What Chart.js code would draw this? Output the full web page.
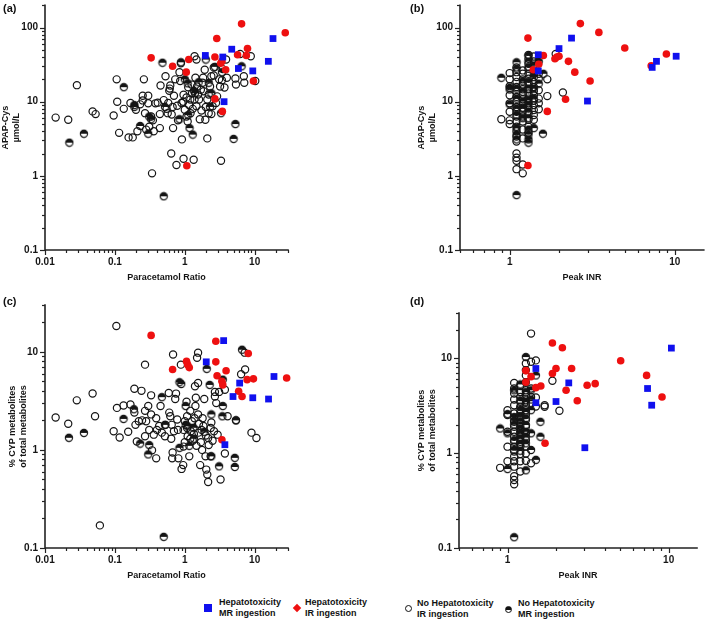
<!DOCTYPE html>
<html><head><meta charset="utf-8">
<script src="https://cdn.jsdelivr.net/npm/chart.js@4.4.1/dist/chart.umd.min.js"></script>
<style>
body{margin:0;background:#fff;width:709px;height:620px;position:relative;overflow:hidden;font-family:"Liberation Sans",Arial,sans-serif;}
canvas{position:absolute;}
.plab{position:absolute;font-weight:bold;font-size:11px;color:#111;line-height:12px;}
.leg{position:absolute;font-weight:bold;font-size:9px;line-height:10.5px;color:#111;white-space:nowrap;}
.mk{position:absolute;box-sizing:border-box;}
</style></head><body>
<canvas id="ca" width="300" height="290" style="left:0;top:0"></canvas>
<canvas id="cb" width="349" height="290" style="left:360px;top:0"></canvas>
<canvas id="cc" width="300" height="293" style="left:0;top:295px"></canvas>
<canvas id="cd" width="349" height="293" style="left:360px;top:295px"></canvas>
<div class="plab" style="left:3px;top:2px">(a)</div>
<div class="plab" style="left:410px;top:2px">(b)</div>
<div class="plab" style="left:3px;top:295px">(c)</div>
<div class="plab" style="left:410px;top:295px">(d)</div>

<div class="mk" style="left:204px;top:604px;width:8px;height:8px;background:#1010ee"></div>
<div class="leg" style="left:219px;top:597px">Hepatotoxicity<br>MR ingestion</div>
<div class="mk" style="left:294px;top:605px;width:6px;height:6px;background:#ee1010;transform:rotate(45deg)"></div>
<div class="leg" style="left:305px;top:597px">Hepatotoxicity<br>IR ingestion</div>
<div class="mk" style="left:404.5px;top:604.5px;width:7px;height:7px;border:1.2px solid #111;border-radius:50%"></div>
<div class="leg" style="left:417px;top:598px">No Hepatotoxicity<br>IR ingestion</div>
<div class="mk" style="left:504.5px;top:605.5px;width:7px;height:7px;border:1.2px solid #111;border-radius:50%;background:linear-gradient(#111 50%,#fff 50%)"></div>
<div class="leg" style="left:518px;top:598px">No Hepatotoxicity<br>MR ingestion</div>

<script>
// ---------- tick values / labels ----------
const ratioTicks = [0.01, 0.1, 1, 10];
const ratioTickLabels = ['0.01', '0.1', '1', '10'];
const inrTicks = [1, 10];
const inrTickLabels = ['1', '10'];
const cysTicks = [0.1, 1, 10, 100];
const cysTickLabels = ['0.1', '1', '10', '100'];
const cypTicks = [0.1, 1, 10];
const cypTickLabels = ['0.1', '1', '10'];

// ---------- Panel (a): Paracetamol Ratio vs APAP-Cys ----------
const a_hepMR = [[1.97,42],[3.5,40],[4.7,51],[5.85,28],[9.4,26],[15.7,35],[18.3,71],[3.65,10]];
const a_hepIR = [[0.33,39],[0.67,30],[1.14,37],[1.05,25],[2.87,71],[2.7,40],[3.27,33],[3.4,35],[3.85,27],[2.7,10.9],[3.45,7.4],[6.5,112],[5.7,43],[7.9,52],[7.6,42],[9.6,19],[27.4,85],[1.07,1.37]];
const a_noIR = [[0.0142,6.1],[0.0215,5.7],[0.0286,16.7],[0.048,7.4],[0.053,6.8],[0.096,6.5],[0.106,20],[0.108,10],[0.115,3.8],[0.134,8],[0.157,3.3],[0.167,9.6],[0.18,3.3],[0.2,7.8],[0.21,4],[0.23,9.2],[0.25,10.4],[0.25,12],[0.26,20],[0.27,7],[0.28,4.2],[0.3,12],[0.3,9.5],[0.31,4.6],[0.33,6.3],[0.35,5.6],[0.36,4],[0.34,1.08],[0.38,9.5],[0.41,9.7],[0.44,6.8],[0.44,4.4],[0.45,16.5],[0.5,10.5],[0.53,22],[0.57,7],[0.58,9.6],[0.61,15],[0.64,2],[0.62,16.5],[0.65,6.7],[0.68,4.4],[0.67,8.5],[0.7,12],[0.73,20],[0.76,1.4],[0.8,5.6],[0.84,25],[0.86,19],[0.9,9.6],[0.88,33],[0.91,3.1],[0.96,1.7],[0.96,12.4],[1.0,7.8],[1.06,11.4],[1.06,6.3],[1.12,15.6],[1.2,10.7],[1.21,7],[1.27,13],[1.34,1.65],[1.38,41],[1.47,37],[1.38,10.7],[1.42,21],[1.47,8.7],[1.5,16],[1.6,10.7],[1.64,5.8],[1.73,7.6],[1.83,21],[1.86,13.8],[1.93,27],[1.97,5.7],[2.1,10.7],[2.1,3.2],[2.2,7],[2.3,16],[2.4,22],[2.5,8.7],[2.6,29],[2.8,9.6],[2.9,11.8],[3.1,20],[3.2,16],[3.3,1.6],[3.4,19.5],[3.7,15.5],[3.9,37],[4.0,21],[5.3,20.5],[5.4,17],[6.2,44],[7.0,22],[7.1,18],[8.8,41],[10.2,19],[3.5,27.5],[1.15,9.0],[1.3,8.0],[1.55,12.5],[1.7,14.5],[2.0,8.5],[2.2,12.5],[2.4,6.8],[0.78,8.8],[0.95,10],[1.25,17],[1.8,18],[0.55,8],[2.6,22.5],[1.1,5.4],[0.6,14]];
const a_noMR = [[0.0223,2.8],[0.036,3.7],[0.134,15.7],[0.19,9],[0.19,8.5],[0.23,4.7],[0.3,3.7],[0.31,6.3],[0.33,5.8],[0.48,33.5],[0.52,8.5],[0.5,0.53],[0.84,5.8],[0.88,34],[1.0,20],[1.1,17.7],[1.12,6.6],[1.17,4.4],[1.3,3.6],[1.35,14],[1.58,18.3],[2.0,37],[2.2,18],[2.4,13],[2.7,29.5],[3.3,7],[3.4,25],[5.3,5],[5.0,3.15],[6.5,30],[1.4,13],[2.3,8.5]];

// ---------- Panel (b): Peak INR vs APAP-Cys ----------
const b_hepMR = [[1.49,43],[1.99,52],[2.37,72],[1.49,26],[2.96,10.2],[7.3,29],[7.75,35],[10.2,41]];
const b_hepIR = [[1.29,72],[1.6,42],[1.5,32],[1.39,27],[1.88,38],[1.99,41],[1.93,40],[2.68,113],[3.47,86],[2.27,35],[2.48,25],[3.07,19],[2.18,10.8],[1.69,7.4],[4.98,53],[7.2,30.5],[8.9,44],[1.29,1.38]];
const b_noIR = [[0.89,5.8],
 [1.0,24.3],[1.0,20],[1.0,16.2],[1.0,12.2],[1.0,9.5],[1.0,7.3],[1.0,5.6],[1.0,5.0],
 [1.1,29],[1.1,25],[1.1,21.5],[1.1,18.5],[1.1,15.8],[1.1,13.6],[1.1,11.6],[1.1,10],[1.1,8.5],[1.1,7.3],[1.1,6.3],[1.1,5.4],[1.1,4.6],[1.1,4],[1.1,3.4],[1.1,2.9],[1.1,2.0],[1.1,1.75],[1.1,1.6],[1.1,1.23],
 [1.2,26.4],[1.2,23.8],[1.2,20],[1.2,17],[1.2,14.7],[1.2,12.5],[1.2,10.8],[1.2,9.5],[1.2,8.3],[1.2,7.3],[1.2,6.3],[1.2,5.4],[1.2,4.2],[1.2,3.2],[1.2,1.42],[1.2,1.08],
 [1.3,42.7],[1.3,37.8],[1.3,32.4],[1.3,27.8],[1.3,23.8],[1.3,20.4],[1.3,17.5],[1.3,14.7],[1.3,12.9],[1.3,11],[1.3,9.5],[1.3,8.1],[1.3,6.8],[1.3,5.7],[1.3,4.6],[1.3,3.8],
 [1.4,40.6],[1.4,34.8],[1.4,26.4],[1.4,23.8],[1.4,18.4],[1.4,15.8],[1.4,13.8],[1.4,12.2],[1.4,10.3],[1.4,9],[1.4,7.7],[1.4,6.6],[1.4,5.7],
 [1.5,23.8],[1.5,20.4],[1.5,14.3],[1.5,11],[1.5,9.5],[1.5,7.9],
 [1.69,20],[1.69,11.9],[1.9,44],[2.1,13.3]];
const b_noMR = [[0.89,21],[1.0,15.4],[1.0,14.6],[1.0,9.2],
 [1.1,34],[1.1,27.8],[1.1,15],[1.1,11],[1.1,8.1],[1.1,6.6],[1.1,4.4],[1.1,3.6],[1.1,3.1],[1.1,0.55],
 [1.2,18.8],[1.2,13.6],[1.2,10],[1.2,8.1],[1.2,6],
 [1.3,41.8],[1.3,34.8],[1.3,29.2],[1.3,18.4],[1.3,15],[1.3,10.5],[1.3,9],[1.3,7.3],[1.3,6],[1.3,4.2],[1.3,3.6],[1.3,3.1],[1.3,2.8],
 [1.4,30.8],[1.4,21.5],[1.4,15],[1.4,11],[1.4,4.4],
 [1.5,34.8],[1.5,17.5],[1.6,23.8],[1.59,3.7]];

// ---------- Panel (c): Paracetamol Ratio vs % CYP metabolites ----------
const c_hepMR = [[2.03,7.9],[3.6,13],[3.75,1.13],[4.9,3.5],[6.1,4.8],[9.4,3.4],[15.8,3.3],[18.9,5.6]];
const c_hepIR = [[0.33,14.7],[0.67,6.6],[1.06,8.0],[1.1,7.4],[1.16,6.9],[2.78,12.8],[2.78,7.9],[2.9,5.7],[3.4,5.0],[3.5,4.6],[3.9,6.4],[3.4,1.27],[5.9,3.96],[6.6,3.5],[7.8,5.2],[8.1,9.6],[9.6,5.3],[28.7,5.4]];
const c_noIR = [[0.0142,2.14],[0.0215,1.85],[0.0285,3.2],[0.048,3.76],[0.052,2.2],[0.061,0.17],[0.096,1.55],[0.105,18.3],[0.107,2.68],[0.117,1.34],[0.133,2.84],[0.155,1.53],[0.167,2.9],[0.19,2.4],[0.19,4.2],[0.197,1.8],[0.206,1.22],[0.22,1.96],[0.24,4.0],[0.245,2.0],[0.27,7.4],[0.27,2.5],[0.28,1.96],[0.27,1.38],[0.3,2.8],[0.31,1.6],[0.33,3.6],[0.33,2.3],[0.34,0.99],[0.36,1.43],[0.39,0.82],[0.39,2.1],[0.4,1.6],[0.43,1.75],[0.45,2.8],[0.47,1.5],[0.52,1.38],[0.53,1.8],[0.59,3.8],[0.6,2.4],[0.62,2.2],[0.64,1.3],[0.65,1.8],[0.67,0.94],[0.66,0.82],[0.68,9.4],[0.73,3.3],[0.75,3.75],[0.78,2.04],[0.8,1.6],[0.81,0.82],[0.88,7.4],[0.9,0.64],[0.95,0.7],[0.96,1.08],[0.96,1.6],[1.0,1.96],[1.06,3.1],[1.08,2.2],[1.08,1.67],[1.1,1.38],[1.16,0.86],[1.2,2.5],[1.22,1.55],[1.26,1.96],[1.3,1.24],[1.38,2.1],[1.4,4.45],[1.42,2.8],[1.44,3.4],[1.47,1.1],[1.5,8.7],[1.55,9.8],[1.55,4.8],[1.55,2.3],[1.57,1.5],[1.6,1.85],[1.66,0.7],[1.74,1.6],[1.77,1.0],[1.85,1.75],[1.9,3.3],[1.98,0.86],[2.03,0.63],[2.1,0.56],[2.16,0.47],[2.16,1.32],[2.2,1.12],[2.35,1.67],[2.35,0.86],[2.5,1.24],[2.62,1.55],[2.7,3.5],[2.7,3.9],[2.82,3.0],[2.95,1.43],[3.1,3.9],[3.25,0.5],[3.75,4.1],[3.75,0.92],[4.1,2.2],[5.4,2.0],[6.4,5.9],[7.3,6.6],[7.2,9.8],[9.0,1.5],[10.6,1.32],[1.2,1.3],[1.35,1.45],[1.7,1.2],[2.0,1.4],[0.7,1.55],[1.8,2.1],[2.4,1.9],[1.0,1.2]];
const c_noMR = [[0.022,1.33],[0.036,1.49],[0.133,2.07],[0.187,2.6],[0.23,1.16],[0.31,1.12],[0.3,0.9],[0.47,3.45],[0.52,1.8],[0.5,0.13],[0.84,4.9],[0.89,4.7],[0.84,1.05],[1.03,2.8],[1.03,1.8],[1.1,1.74],[1.16,1.1],[1.33,1.68],[1.36,1.3],[1.9,1.53],[2.06,6.7],[2.27,4.6],[2.4,2.3],[2.4,0.86],[3.1,0.68],[3.5,2.8],[3.5,5.2],[3.45,2.2],[5.2,0.83],[5.4,2.0],[5.2,0.67],[6.6,10.5]];

// ---------- Panel (d): Peak INR vs % CYP metabolites ----------
const d_hepMR = [[1.5,7.8],[1.5,3.4],[2.0,3.5],[2.4,5.5],[3.02,1.14],[7.4,4.8],[7.85,3.2],[10.4,12.8]];
const d_hepIR = [[1.3,7.4],[1.3,5.6],[1.4,6.4],[1.5,4.9],[1.61,5.1],[1.9,14.5],[1.9,6.9],[2.0,7.8],[2.19,12.9],[2.31,4.6],[2.5,7.8],[2.71,3.56],[3.12,5.2],[3.5,5.4],[5.04,9.4],[7.3,6.6],[9.1,3.9],[1.71,1.27]];
const d_noIR = [[0.9,0.7],
 [1.0,2.84],[1.0,2.52],[1.0,1.68],[1.0,1.17],[1.0,0.82],
 [1.1,5.5],[1.1,4.8],[1.1,4.25],[1.1,3.68],[1.1,3.2],[1.1,2.62],[1.1,2.14],[1.1,1.9],[1.1,1.68],[1.1,1.49],[1.1,1.32],[1.1,1.17],[1.1,1.04],[1.1,0.92],[1.1,0.82],[1.1,0.72],[1.1,0.57],[1.1,0.52],[1.1,0.47],
 [1.2,5.1],[1.2,4.4],[1.2,3.9],[1.2,3.47],[1.2,3.08],[1.2,2.62],[1.2,2.23],[1.2,1.93],[1.2,1.68],[1.2,1.49],[1.2,1.32],[1.2,1.17],[1.2,0.98],[1.2,0.82],[1.2,0.64],
 [1.3,8.8],[1.3,7.5],[1.3,6.6],[1.3,5.6],[1.3,4.6],[1.3,4.1],[1.3,3.6],[1.3,3.2],[1.3,2.84],[1.3,2.52],[1.3,2.23],[1.3,1.9],[1.3,1.62],[1.3,1.37],[1.3,1.17],[1.3,0.99],[1.3,0.83],
 [1.4,18.2],[1.4,9.2],[1.4,4.8],[1.4,3.9],[1.4,3.34],[1.4,0.78],
 [1.5,9.5],[1.5,3.86],[1.5,3.1],
 [1.7,3.2],[1.7,3.08],[1.9,5.8],[2.1,2.8]];
const d_noMR = [[0.9,1.82],[1.0,2.58],[1.0,1.62],[1.0,0.68],
 [1.1,4.6],[1.1,2.4],[1.1,2.22],[1.1,2.0],[1.1,1.37],[1.1,1.08],[1.1,0.13],
 [1.2,5.3],[1.2,3.6],[1.2,2.85],[1.2,2.46],[1.2,2.14],[1.2,1.82],[1.2,1.62],[1.2,1.43],[1.2,1.25],[1.2,1.06],
 [1.3,10.3],[1.3,4.4],[1.3,3.47],[1.3,2.73],[1.3,2.33],[1.3,1.98],[1.3,1.68],[1.3,1.49],[1.3,1.27],[1.3,0.66],
 [1.4,4.6],[1.4,3.68],[1.4,2.84],[1.4,1.62],[1.4,1.08],
 [1.5,6.6],[1.5,0.85],[1.6,2.14],[1.6,1.49]];

// ---------- styling ----------
const BLUE = '#1010ee', RED = '#ee1010', INK = '#151515';
const FONT = '"Liberation Sans", Arial, sans-serif';
Chart.defaults.font.family = FONT;
Chart.defaults.color = INK;

function halfImg(r) {
  const c = document.createElement('canvas');
  const s = 10; c.width = s; c.height = s;
  const g = c.getContext('2d');
  g.beginPath(); g.arc(s/2, s/2, r, Math.PI, 2*Math.PI); g.closePath();
  g.fillStyle = INK; g.fill();
  g.beginPath(); g.arc(s/2, s/2, r, 0, 2*Math.PI);
  g.lineWidth = 1.2; g.strokeStyle = INK; g.stroke();
  return c;
}
const HALF = halfImg(3.6);

const toXY = arr => arr.map(p => ({x: p[0], y: p[1]}));

function datasets(mr, ir, noIR, noMR) {
  return [
    {label:'Hepatotoxicity MR ingestion', data: toXY(mr), pointStyle:'rect', pointRadius:4.8, backgroundColor:BLUE, borderColor:BLUE, borderWidth:0, clip:false},
    {label:'Hepatotoxicity IR ingestion', data: toXY(ir), pointStyle:'circle', pointRadius:3.8, backgroundColor:RED, borderColor:RED, borderWidth:0, clip:false},
    {label:'No Hepatotoxicity MR ingestion', data: toXY(noMR), pointStyle:HALF, pointRadius:3.6, clip:false},
    {label:'No Hepatotoxicity IR ingestion', data: toXY(noIR), pointStyle:'circle', pointRadius:3.6, backgroundColor:'rgba(255,255,255,0)', borderColor:INK, borderWidth:1.2, clip:false}
  ];
}

const axisPlugin = {
  id: 'axisPlugin',
  beforeDatasetsDraw(chart) {
    const ctx = chart.ctx, ca = chart.chartArea;
    ctx.save();
    ctx.strokeStyle = '#222'; ctx.lineWidth = 1.6; ctx.lineCap = 'square';
    ctx.beginPath(); ctx.moveTo(ca.left, ca.top); ctx.lineTo(ca.left, ca.bottom); ctx.lineTo(ca.right, ca.bottom); ctx.stroke();
    ctx.lineWidth = 1.2; ctx.lineCap = 'butt';
    ['x','y'].forEach(id => {
      const s = chart.scales[id];
      const e0 = Math.floor(Math.log10(s.min)), e1 = Math.ceil(Math.log10(s.max));
      for (let e = e0; e <= e1; e++) for (let k = 1; k <= 9; k++) {
        const v = k * Math.pow(10, e);
        if (v < s.min * 0.999 || v > s.max * 1.001) continue;
        const p = Math.round(s.getPixelForValue(v)) + 0.5;
        const len = k === 1 ? 5 : 3;
        ctx.beginPath();
        if (id === 'x') { ctx.moveTo(p, ca.bottom); ctx.lineTo(p, ca.bottom + len); }
        else { ctx.moveTo(ca.left, p); ctx.lineTo(ca.left - len, p); }
        ctx.stroke();
      }
    });
    ctx.restore();
  }
};

function logAxis(cfg) {
  return {
    type: 'logarithmic', min: cfg.min, max: cfg.max,
    grid: {display:false, drawTicks:false, tickLength:0},
    border: {display:false},
    afterBuildTicks: s => { s.ticks = cfg.ticks.map(v => ({value: v})); },
    afterFit: s => {
      if (cfg.width) s.width = cfg.width;
      if (cfg.height) s.height = cfg.height;
      s.paddingTop = 0; s.paddingBottom = 0; s.paddingLeft = 0; s.paddingRight = 0;
    },
    ticks: {
      autoSkip:false, maxRotation:0, minRotation:0, padding: cfg.tickPad, color: INK,
      font: {size:10, weight:'bold', family:FONT},
      callback: v => { const i = cfg.ticks.findIndex(t => Math.abs(Math.log10(t) - Math.log10(v)) < 1e-6); return i >= 0 ? cfg.labels[i] : ''; }
    },
    title: {display:true, text: cfg.title, color: INK, font:{size:9, weight:'bold', family:FONT, lineHeight:1.2}, padding: cfg.titlePad}
  };
}

function makeChart(id, dsets, xCfg, yCfg, pad) {
  return new Chart(document.getElementById(id), {
    type: 'scatter',
    data: {datasets: dsets},
    options: {
      responsive:false, animation:false, devicePixelRatio:1,
      layout: {padding: pad},
      plugins: {legend:{display:false}, tooltip:{enabled:false}},
      scales: {x: logAxis(xCfg), y: logAxis(yCfg)}
    },
    plugins: [axisPlugin]
  });
}

makeChart('ca', datasets(a_hepMR, a_hepIR, a_noIR, a_noMR),
  {min:0.01, max:30, ticks:ratioTicks, labels:ratioTickLabels, height:40, tickPad:6, title:'Paracetamol Ratio', titlePad:{top:0,bottom:7.5}},
  {min:0.1, max:200, ticks:cysTicks, labels:cysTickLabels, width:45, tickPad:7, title:['APAP-Cys','µmol/L'], titlePad:{top:0.5,bottom:0}},
  {left:0, top:5, right:12, bottom:0});

makeChart('cb', datasets(b_hepMR, b_hepIR, b_noIR, b_noMR),
  {min:0.5, max:15, ticks:inrTicks, labels:inrTickLabels, height:40, tickPad:6, title:'Peak INR', titlePad:{top:0,bottom:7.5}},
  {min:0.1, max:200, ticks:cysTicks, labels:cysTickLabels, width:45, tickPad:7, title:['APAP-Cys','µmol/L'], titlePad:{top:1.5,bottom:0}},
  {left:55, top:3, right:1, bottom:0});

makeChart('cc', datasets(c_hepMR, c_hepIR, c_noIR, c_noMR),
  {min:0.01, max:30, ticks:ratioTicks, labels:ratioTickLabels, height:40, tickPad:6, title:'Paracetamol Ratio', titlePad:{top:0,bottom:7.5}},
  {min:0.1, max:30, ticks:cypTicks, labels:cypTickLabels, width:45, tickPad:7, title:['% CYP metabolites','of total metabolites'], titlePad:{top:7.5,bottom:0}},
  {left:0, top:10, right:12, bottom:0});

makeChart('cd', datasets(d_hepMR, d_hepIR, d_noIR, d_noMR),
  {min:0.5, max:15, ticks:inrTicks, labels:inrTickLabels, height:40, tickPad:6, title:'Peak INR', titlePad:{top:0,bottom:7.5}},
  {min:0.1, max:30, ticks:cypTicks, labels:cypTickLabels, width:45, tickPad:7, title:['% CYP metabolites','of total metabolites'], titlePad:{top:2.5,bottom:0}},
  {left:54, top:18, right:12, bottom:0});
</script>
</body></html>
